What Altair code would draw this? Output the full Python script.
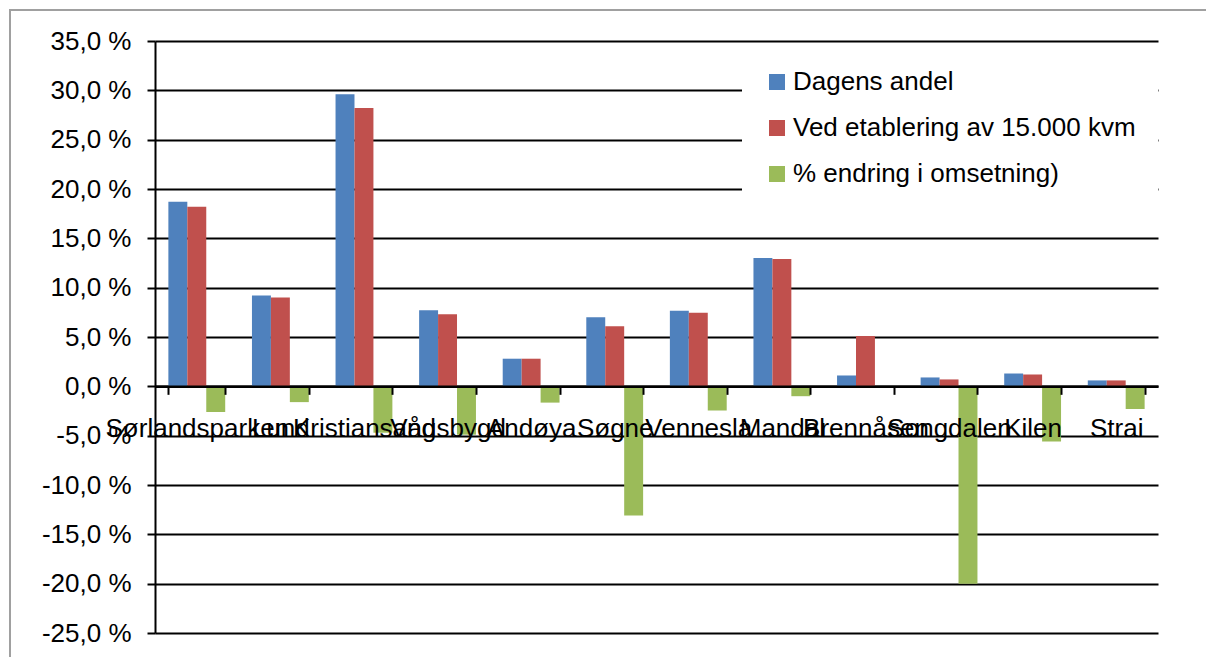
import altair as alt
import pandas as pd

steder = ["Sørlandsparken", "Lund", "Kristiansand", "Vågsbygd", "Andøya", "Søgne",
          "Vennesla", "Mandal", "Brennåsen", "Songdalen", "Kilen", "Strai"]
serier = ["Dagens andel", "Ved etablering av 15.000 kvm", "% endring i omsetning)"]
dagens = [18.7, 9.2, 29.6, 7.7, 2.8, 7.0, 7.65, 13.0, 1.1, 0.9, 1.3, 0.6]
etablering = [18.2, 9.0, 28.2, 7.3, 2.8, 6.1, 7.45, 12.9, 5.1, 0.7, 1.2, 0.6]
endring = [-2.6, -1.6, -4.7, -4.9, -1.65, -13.1, -2.45, -1.0, 0.0, -20.0, -5.6, -2.3]
y_ticks = [-25, -20, -15, -10, -5, 0, 5, 10, 15, 20, 25, 30, 35]
farger = ["#4F81BD", "#C0504D", "#9BBB59"]

FONT = "Liberation Sans"
FS = 26

rows = []
for serie, vals in zip(serier, [dagens, etablering, endring]):
    for s, v in zip(steder, vals):
        rows.append({"Sted": s, "Serie": serie, "Verdi": v})
df = pd.DataFrame(rows)

W, H = 1003, 592
zero_px = H * 35 / 60

bars = alt.Chart(df).mark_bar().encode(
    x=alt.X("Sted:N", sort=steder,
            scale=alt.Scale(paddingInner=0.32, paddingOuter=0.16),
            axis=alt.Axis(title=None, offset=zero_px - H, tickBand="extent",
                          labelOverlap=False, labelAngle=0, labelFontSize=FS,
                          labelFont=FONT, labelPadding=21, tickSize=8,
                          domainColor="black", domainWidth=2.5, tickColor="black",
                          tickWidth=2, zindex=1, labelColor="black", labelLimit=400,
                          grid=False)),
    xOffset=alt.XOffset("Serie:N", sort=serier, scale=alt.Scale(paddingInner=0, paddingOuter=0)),
    y=alt.Y("Verdi:Q", scale=alt.Scale(domain=[-25, 35], nice=False, zero=False),
            axis=alt.Axis(values=y_ticks, title=None, grid=True, gridColor="black",
                          gridWidth=2, domainColor="black", domainWidth=2,
                          tickColor="black", tickSize=8, tickWidth=2,
                          labelFontSize=FS, labelFont=FONT, labelPadding=16,
                          labelColor="black",
                          labelExpr="(datum.value < 0 ? '-' : '') + replace(format(abs(datum.value), '.1f'), '.', ',') + ' %'")),
    color=alt.Color("Serie:N", sort=serier,
                    scale=alt.Scale(domain=serier, range=farger),
                    legend=alt.Legend(orient="none", legendX=587, legendY=6, title=None,
                                      fillColor="white", padding=22, labelFontSize=FS,
                                      labelFont=FONT, symbolType="square", symbolSize=256,
                                      rowPadding=20, labelOffset=3, symbolStrokeWidth=0,
                                      labelColor="black", labelLimit=500)),
)

border = alt.Chart(pd.DataFrame({"a": [0]})).mark_rect(
    fillOpacity=0, stroke="#a0a0a0", strokeWidth=2
).encode(
    x=alt.value(-145), x2=alt.value(1100), y=alt.value(-31), y2=alt.value(700)
)

chart = alt.layer(bars, border).properties(
    width=W, height=H,
    autosize=alt.AutoSizeParams(type="none"),
    padding={"left": 155, "top": 41, "right": 48, "bottom": 24},
).configure_view(stroke=None)

chart.save("out.html", embed_options={"renderer": "svg", "actions": False})
